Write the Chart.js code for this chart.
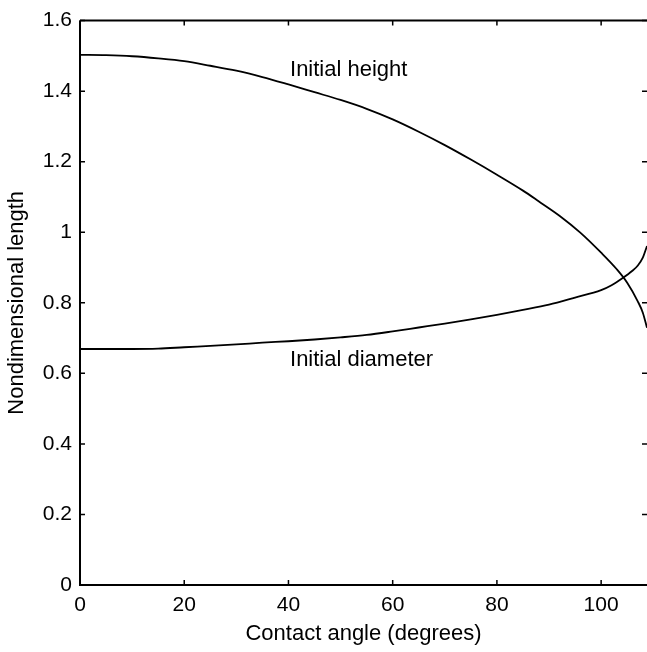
<!DOCTYPE html>
<html>
<head>
<meta charset="utf-8">
<script src="https://cdn.jsdelivr.net/npm/chart.js@4/dist/chart.umd.min.js"></script>
<style>
  body { margin: 0; background: #fff; overflow: hidden; }
</style>
</head>
<body>
<canvas id="chart" width="647" height="652"></canvas>
<script>
'use strict';

// values
const heightAngles = [0, 5, 10, 15, 20, 25, 30, 35, 40, 45, 50, 55, 60, 65, 70, 75, 80, 85, 88, 92, 96, 100, 103, 105, 107, 108, 108.8];
const heightValues = [1.503, 1.502, 1.499, 1.493, 1.485, 1.472, 1.458, 1.440, 1.419, 1.397, 1.375, 1.350, 1.320, 1.285, 1.247, 1.206, 1.163, 1.118, 1.088, 1.047, 0.999, 0.942, 0.895, 0.857, 0.805, 0.772, 0.729];

const diameterAngles = [0, 5, 10, 15, 20, 25, 30, 35, 40, 45, 50, 55, 60, 65, 70, 75, 80, 85, 90, 95, 100, 102, 104, 106, 107, 108, 108.8];
const diameterValues = [0.669, 0.669, 0.669, 0.670, 0.674, 0.678, 0.682, 0.687, 0.691, 0.696, 0.702, 0.709, 0.719, 0.730, 0.741, 0.753, 0.766, 0.780, 0.795, 0.815, 0.836, 0.850, 0.869, 0.891, 0.905, 0.928, 0.961];

const xTickValues = [0, 20, 40, 60, 80, 100];
const xTicks = ['0', '20', '40', '60', '80', '100'];
const yTickValues = [0, 0.2, 0.4, 0.6, 0.8, 1, 1.2, 1.4, 1.6];
const yTicks = ['0', '0.2', '0.4', '0.6', '0.8', '1', '1.2', '1.4', '1.6'];

const curveLabels = [
  { text: 'Initial height', x: 40.3, y: 1.442 },
  { text: 'Initial diameter', x: 40.3, y: 0.622 }
];

const FONT = '"Liberation Sans", Arial, Helvetica, sans-serif';

function toPoints(xs, ys) {
  return xs.map((x, i) => ({ x: x, y: ys[i] }));
}

// matlab style box with inward ticks + the two curve labels
const boxPlugin = {
  id: 'box',
  afterDraw(chart) {
    const ctx = chart.ctx;
    const a = chart.chartArea;
    const xs = chart.scales.x;
    const ys = chart.scales.y;
    const len = 5;
    ctx.save();
    ctx.strokeStyle = '#000';
    ctx.lineWidth = 2;
    ctx.beginPath();
    ctx.moveTo(a.left, a.top);
    ctx.lineTo(a.right, a.top);
    ctx.moveTo(a.left, a.top);
    ctx.lineTo(a.left, a.bottom);
    ctx.lineTo(a.right, a.bottom);
    ctx.stroke();

    ctx.lineWidth = 1.5;
    ctx.beginPath();
    xs.ticks.forEach(t => {
      const px = xs.getPixelForValue(t.value);
      ctx.moveTo(px, a.bottom);
      ctx.lineTo(px, a.bottom - len);
      ctx.moveTo(px, a.top);
      ctx.lineTo(px, a.top + len);
    });
    ys.ticks.forEach(t => {
      const py = ys.getPixelForValue(t.value);
      ctx.moveTo(a.left, py);
      ctx.lineTo(a.left + len, py);
      ctx.moveTo(a.right, py);
      ctx.lineTo(a.right - len, py);
    });
    ctx.stroke();

    ctx.fillStyle = '#000';
    ctx.font = '22px ' + FONT;
    ctx.textAlign = 'left';
    ctx.textBaseline = 'alphabetic';
    curveLabels.forEach(l => {
      ctx.fillText(l.text, xs.getPixelForValue(l.x), ys.getPixelForValue(l.y));
    });
    ctx.restore();
  }
};

function renderChart() {
  const ctx = document.getElementById('chart');

  new Chart(ctx, {
    type: 'line',
    data: {
      datasets: [{
        label: 'Initial height',
        data: toPoints(heightAngles, heightValues),
        borderColor: '#000',
        borderWidth: 1.8,
        pointRadius: 0,
        cubicInterpolationMode: 'monotone'
      }, {
        label: 'Initial diameter',
        data: toPoints(diameterAngles, diameterValues),
        borderColor: '#000',
        borderWidth: 1.8,
        pointRadius: 0,
        cubicInterpolationMode: 'monotone'
      }]
    },
    options: {
      responsive: false,
      animation: false,
      layout: { padding: { top: 19, right: 0, left: 0, bottom: 0 } },
      plugins: {
        legend: { display: false },
        tooltip: { enabled: false }
      },
      scales: {
        x: {
          type: 'linear',
          min: 0,
          max: 108.8,
          afterBuildTicks: s => { s.ticks = xTickValues.map(v => ({ value: v })); },
          afterFit: s => { s.height = 67; },
          grid: { display: false, drawTicks: false },
          border: { display: false },
          ticks: {
            padding: 8,
            color: '#000',
            autoSkip: false,
            font: { family: FONT, size: 21 },
            maxRotation: 0,
            callback: (v) => xTicks[xTickValues.indexOf(v)]
          },
          title: {
            display: true,
            text: 'Contact angle (degrees)',
            color: '#000',
            font: { family: FONT, size: 22 },
            padding: { top: 0, bottom: 5 }
          }
        },
        y: {
          min: 0,
          max: 1.6,
          afterBuildTicks: s => { s.ticks = yTickValues.map(v => ({ value: v })); },
          afterFit: s => { s.width = 80; },
          grid: { display: false, drawTicks: false },
          border: { display: false },
          ticks: {
            padding: 8,
            color: '#000',
            autoSkip: false,
            font: { family: FONT, size: 21 },
            callback: (v) => yTicks[yTickValues.indexOf(v)]
          },
          title: {
            display: true,
            text: 'Nondimensional length',
            color: '#000',
            font: { family: FONT, size: 22 },
            padding: { top: 4, bottom: 0 }
          }
        }
      }
    },
    plugins: [boxPlugin]
  });
}

renderChart();
</script>
</body>
</html>
